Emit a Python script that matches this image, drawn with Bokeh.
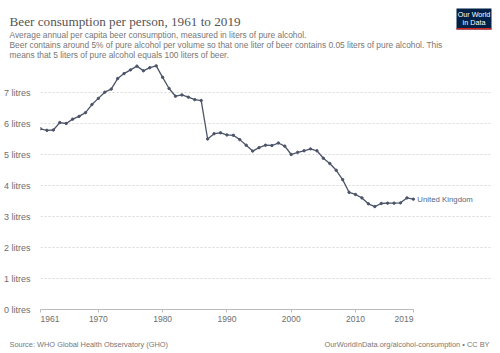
from bokeh.plotting import figure
from bokeh.models import Range1d, FixedTicker, ColumnDataSource
from bokeh.layouts import column
from bokeh.core.properties import value
from bokeh.embed import file_html
from bokeh.resources import INLINE

# ---- data ----
years = list(range(1961, 2020))
uk_beer = [5.83, 5.78, 5.79, 6.03, 6.00, 6.14, 6.23, 6.35, 6.61, 6.81,
           7.01, 7.11, 7.45, 7.61, 7.73, 7.85, 7.70, 7.80, 7.86, 7.49,
           7.13, 6.88, 6.92, 6.85, 6.77, 6.74, 5.50, 5.67, 5.70, 5.63,
           5.62, 5.48, 5.30, 5.11, 5.22, 5.30, 5.29, 5.37, 5.27, 5.00,
           5.07, 5.12, 5.18, 5.12, 4.88, 4.71, 4.49, 4.19, 3.78, 3.71,
           3.60, 3.41, 3.32, 3.42, 3.43, 3.43, 3.44, 3.60, 3.56]
country = "United Kingdom"
x_ticks = [1961, 1970, 1980, 1990, 2000, 2010, 2019]
y_ticks = [0, 1, 2, 3, 4, 5, 6, 7]
y_tick_labels = [f"{v} litres" for v in y_ticks]

title = "Beer consumption per person, 1961 to 2019"
subtitle = [
    "Average annual per capita beer consumption, measured in liters of pure alcohol.",
    "Beer contains around 5% of pure alcohol per volume so that one liter of beer contains 0.05 liters of pure alcohol. This",
    "means that 5 liters of pure alcohol equals 100 liters of beer.",
]
source = "Source: WHO Global Health Observatory (GHO)"
credit = "OurWorldInData.org/alcohol-consumption \u2022 CC BY"
logo_lines = ["Our World", "in Data"]

LINE = "#4b5469"
GREY = "#6e6e6e"
SANS = "Liberation Sans"
W = 500
HEAD_H = 61
FOOT_H = 24
TOTAL_H = 353


def blank(h, y0):
    f = figure(width=W, height=h, x_range=Range1d(0, W), y_range=Range1d(y0 + h, y0),
               output_backend="svg", toolbar_location=None,
               x_axis_type=None, y_axis_type=None, frame_align=False,
               min_border=0, min_border_left=0, min_border_right=0,
               min_border_top=0, min_border_bottom=0)
    f.grid.visible = False
    f.outline_line_color = None
    f.background_fill_color = "white"
    f.border_fill_color = "white"
    return f


# ---- header ----
head = blank(HEAD_H, 0)
head.text(x=[9], y=[20.8], text=[title], text_font=value("Liberation Serif"),
          text_font_size="13.2px", text_color="#555555", text_baseline="alphabetic")
head.text(x=[9, 9, 9], y=[34.3, 44.5, 54.3], text=subtitle, text_font=value(SANS),
          text_font_size="8.4px", text_color="#777777", text_baseline="alphabetic")
head.quad(left=[456], right=[491], top=[8], bottom=[29], fill_color="#002147", line_color=None)
head.quad(left=[456], right=[491], top=[27.6], bottom=[29], fill_color="#ce261e", line_color=None)
head.text(x=[473.5, 473.5], y=[14.3, 22.3], text=logo_lines, text_font=value(SANS),
          text_font_size="7.2px", text_color="white", text_align="center",
          text_baseline="middle")

# ---- main chart ----
p = figure(width=W, height=TOTAL_H - HEAD_H - FOOT_H,
           x_range=Range1d(1961, 2031), y_range=Range1d(0, 8),
           output_backend="svg", toolbar_location=None, frame_align=False,
           min_border_left=40, min_border_right=10, min_border_top=0, min_border_bottom=20)
p.outline_line_color = None
p.background_fill_color = "white"
p.border_fill_color = "white"

xa = p.xaxis[0]
xa.ticker = FixedTicker(ticks=x_ticks)
xa.bounds = (1961, 2019)
xa.axis_line_color = "#bbbbbb"
xa.major_tick_line_color = "#bbbbbb"
xa.major_tick_out = 3
xa.major_tick_in = 0
xa.minor_tick_line_color = None
xa.major_label_text_font = SANS
xa.major_label_text_font_size = "8.5px"
xa.major_label_text_color = GREY
xa.major_label_standoff = 1
nb = "\u00a0" * 8
xa.major_label_overrides = {1961: nb + "1961", 2019: "2019" + nb}

ya = p.yaxis[0]
ya.ticker = FixedTicker(ticks=y_ticks)
ya.axis_line_color = None
ya.major_tick_line_color = None
ya.minor_tick_line_color = None
ya.major_label_text_font = SANS
ya.major_label_text_font_size = "9px"
ya.major_label_text_color = GREY
ya.major_label_standoff = 4
ya.major_label_overrides = {v: s for v, s in zip(y_ticks, y_tick_labels)}

p.xgrid.grid_line_color = None
p.ygrid.ticker = FixedTicker(ticks=y_ticks[1:])
p.ygrid.grid_line_color = "#d8d8d8"
p.ygrid.grid_line_dash = "2 2"
p.ygrid.bounds = (1961, 2019)

src = ColumnDataSource(dict(year=years, v=uk_beer))
p.line("year", "v", source=src, line_color=LINE, line_width=1.3)
p.scatter("year", "v", source=src, size=2.4, fill_color=LINE, line_color=LINE)
p.text(x=[years[-1]], y=[uk_beer[-1]], text=[country], x_offset=4,
       text_baseline="middle", text_align="left", text_font=value(SANS),
       text_font_size="7.8px", text_color="#5a6680")

# ---- footer ----
foot = blank(FOOT_H, TOTAL_H - FOOT_H)
foot.text(x=[9], y=[343.5], text=[source], text_font=value(SANS), text_font_size="7.4px",
          text_color="#777777", text_baseline="alphabetic")
foot.text(x=[489], y=[343.5], text=[credit], text_font=value(SANS), text_font_size="7.4px",
          text_color="#777777", text_baseline="alphabetic", text_align="right")

layout = column(head, p, foot, spacing=0)
open("out.html", "w").write(file_html(layout, INLINE))
